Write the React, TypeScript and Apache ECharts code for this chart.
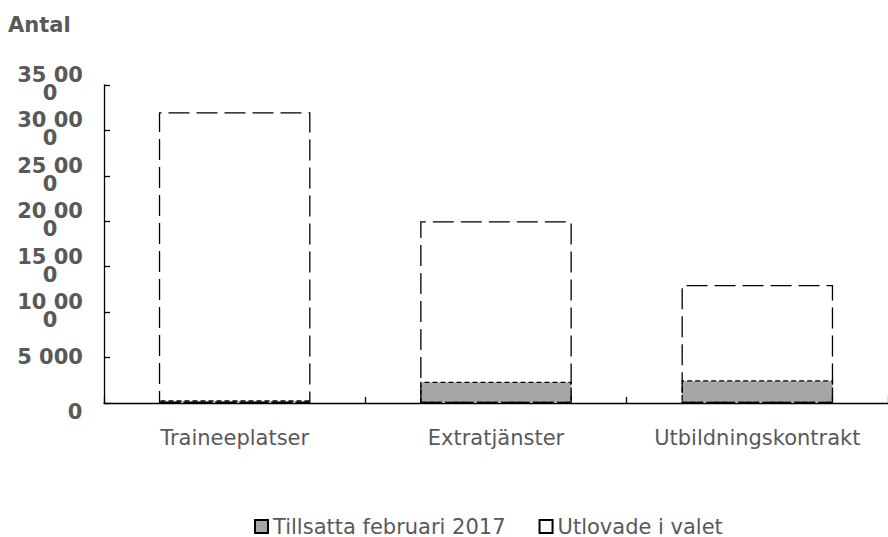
import React, { useEffect, useRef } from "react";
import * as echarts from "echarts";

const categories = ["Traineeplatser", "Extratjänster", "Utbildningskontrakt"];
const tillsatta = [300, 2350, 2500];
const utlovade = [32000, 20000, 13000];
const seriesNames = ["Tillsatta februari 2017", "Utlovade i valet"];
const yTitle = "Antal";

const FONT = "'DejaVu Sans', Verdana, sans-serif";
const GRAY = "#595959";

function fmtY(v: number): string {
  if (v === 0) return "{z|0}";
  const s = String(v).replace(/\B(?=(\d{3})+(?!\d))/g, " ");
  if (s.length > 5) return s.slice(0, 5) + "\n" + s.slice(5);
  return s;
}

export default function App() {
  const ref = useRef<HTMLDivElement>(null);
  useEffect(() => {
    if (!ref.current) return;
    const chart = echarts.init(ref.current, undefined, { renderer: "svg" });
    chart.setOption({
      animation: false,
      backgroundColor: "#ffffff",
      title: {
        text: yTitle,
        left: 8,
        top: 14,
        padding: 0,
        textStyle: { fontFamily: FONT, fontSize: 21, fontWeight: "bold", color: GRAY },
      },
      grid: { left: 104, top: 85, width: 789, height: 318 },
      legend: {
        left: 254,
        top: 516,
        padding: 0,
        icon: "rect",
        itemWidth: 13,
        itemHeight: 13,
        itemGap: 33,
        textStyle: { fontFamily: FONT, fontSize: 21, color: GRAY },
        data: seriesNames,
      },
      xAxis: {
        type: "category",
        data: categories,
        axisLine: { show: true, lineStyle: { color: "#000", width: 1.3 } },
        axisTick: {
          show: true,
          inside: true,
          interval: 0,
          length: 6,
          lineStyle: { color: "#000", width: 1.3 },
        },
        axisLabel: {
          fontFamily: FONT,
          fontSize: 21,
          color: GRAY,
          margin: 24,
          interval: 0,
          hideOverlap: false,
        },
      },
      yAxis: {
        type: "value",
        min: 0,
        max: 35000,
        interval: 5000,
        splitLine: { show: false },
        axisLine: { show: true, lineStyle: { color: "#000", width: 1.3 } },
        axisTick: { show: true, inside: true, length: 6, lineStyle: { color: "#000", width: 1.3 } },
        axisLabel: {
          fontFamily: FONT,
          fontSize: 21,
          fontWeight: "bold",
          color: GRAY,
          align: "center",
          margin: 54,
          lineHeight: 18,
          padding: [0, 0, 2, 0],
          hideOverlap: false,
          formatter: fmtY,
          rich: {
            z: {
              fontFamily: FONT,
              fontSize: 21,
              fontWeight: "bold",
              color: GRAY,
              padding: [20, 0, 0, 50],
            },
          },
        },
      },
      series: [
        {
          name: seriesNames[0],
          type: "bar",
          data: tillsatta,
          barWidth: "58%",
          barGap: "-100%",
          itemStyle: { color: "#a6a6a6", borderColor: "#000", borderWidth: 1.3, borderType: [5, 3] },
        },
        {
          name: seriesNames[1],
          type: "bar",
          data: utlovade,
          barWidth: "58%",
          barGap: "-100%",
          itemStyle: { color: "rgba(255,255,255,0)", borderColor: "#000", borderWidth: 1.3, borderType: [21, 7] },
        },
      ],
    });
    return () => chart.dispose();
  }, []);
  return (
    <div
      ref={ref}
      style={{ position: "absolute", left: 0, top: 0, width: 888, height: 537 }}
    />
  );
}
